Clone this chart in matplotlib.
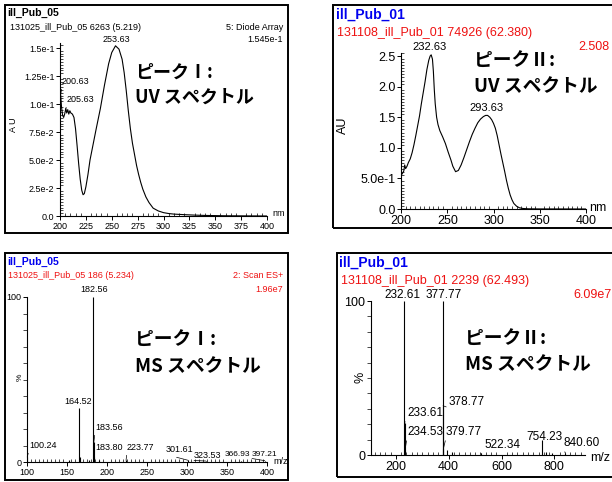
import matplotlib.pyplot as plt
from matplotlib.patches import Rectangle
from matplotlib.ticker import MultipleLocator

# UV spectrum of peak I (ill_Pub_05)
uv1_nm = [200, 200.63, 201.5, 202.5, 203.5, 204.5, 205.63, 206.5, 207.5, 208.5,
          209.5, 210.5, 212, 213.5, 215, 216.5, 218, 219.5, 221, 222.3,
          223.5, 225, 227, 229, 232, 235, 239, 243, 247, 250,
          253.63, 257, 260, 262, 264, 266, 268, 270, 272, 274,
          276, 278, 280, 283, 286, 290, 295, 300, 305, 310,
          320, 330, 340, 360, 380, 400]
uv1_au = [0.086, 0.108, 0.097, 0.090, 0.088, 0.091, 0.096, 0.092, 0.095, 0.091,
          0.094, 0.092, 0.091, 0.088, 0.078, 0.063, 0.047, 0.033, 0.023, 0.019,
          0.020, 0.026, 0.037, 0.050, 0.064, 0.078, 0.096, 0.117, 0.136, 0.146,
          0.152, 0.149, 0.140, 0.128, 0.112, 0.094, 0.078, 0.065, 0.055, 0.045,
          0.037, 0.030, 0.024, 0.017, 0.012, 0.007, 0.0045, 0.003, 0.0022, 0.0017,
          0.0012, 0.0008, 0.0005, 0.0002, 0.0001, 0.0]
uv1_yticks = [0.0, 0.025, 0.05, 0.075, 0.1, 0.125, 0.15]
uv1_ylabels = ["0.0", "2.5e-2", "5.0e-2", "7.5e-2", "1.0e-1", "1.25e-1", "1.5e-1"]
uv1_xticks = [200, 225, 250, 275, 300, 325, 350, 375, 400]

# UV spectrum of peak II (ill_Pub_01)
uv2_nm = [200, 201.5, 203, 204, 205, 206.5, 208, 210, 212, 214,
          216, 218, 220, 222, 224, 226, 228, 230, 231.5, 232.63,
          234, 235, 236, 237, 238.5, 240, 242, 245, 248, 251,
          254, 256, 259, 262, 265, 268, 271, 274, 277, 280,
          283, 286, 289, 291.5, 293.63, 296, 298, 300, 302, 304,
          306, 308, 310, 312, 314, 316, 318, 320, 322, 325,
          328, 332, 338, 350, 400]
uv2_au = [0.55, 0.58, 0.62, 0.72, 0.66, 0.70, 0.76, 0.82, 0.92, 1.05,
          1.20, 1.36, 1.52, 1.72, 1.90, 2.08, 2.28, 2.43, 2.50, 2.52,
          2.45, 2.25, 1.95, 1.72, 1.50, 1.38, 1.28, 1.18, 1.07, 0.93,
          0.80, 0.70, 0.61, 0.63, 0.72, 0.84, 0.97, 1.10, 1.22, 1.32,
          1.41, 1.47, 1.51, 1.53, 1.53, 1.50, 1.46, 1.40, 1.32, 1.20,
          1.05, 0.90, 0.76, 0.62, 0.47, 0.34, 0.23, 0.15, 0.09, 0.045,
          0.02, 0.008, 0.003, 0.001, 0.0]
uv2_yticks = [0.0, 0.5, 1.0, 1.5, 2.0, 2.5]
uv2_ylabels = ["0.0", "5.0e-1", "1.0", "1.5", "2.0", "2.5"]
uv2_xticks = [200, 250, 300, 350, 400]

# MS spectrum of peak I
ms1_mz = [100.24, 152.0, 164.52, 166.0, 178.0, 182.56, 183.56, 183.80, 190.5,
          223.77, 301.61, 323.53, 366.93, 397.21]
ms1_pct = [3, 1, 33, 3, 1, 100, 12, 3, 1, 1, 1.0, 0.6, 0.8, 0.8]
ms1_xticks = [100, 150, 200, 250, 300, 350, 400]

# MS spectrum of peak II
ms2_mz = [232.61, 233.61, 234.53, 377.77, 378.77, 379.77, 395.0, 412.0,
          522.34, 754.23, 768.0, 790.0, 840.60]
ms2_pct = [100, 21, 3, 100, 32, 4, 3, 2, 1, 10, 2, 1.5, 1.5]
ms2_xticks = [200, 400, 600, 800]

W, H = 612, 482
JP = ["Noto Sans CJK JP", "DejaVu Sans"]
NARROW = ["Liberation Sans Narrow", "Liberation Sans"]
SANS = ["Liberation Sans", "DejaVu Sans"]

fig = plt.figure(figsize=(W / 100, H / 100), dpi=100)


def axes_px(x0, y0, x1, y1):
    return fig.add_axes([x0 / W, 1 - y1 / H, (x1 - x0) / W, (y1 - y0) / H])


def text_px(x, y, s, **kw):
    kw.setdefault("va", "center")
    fig.text(x / W, 1 - y / H, s, **kw)


def frame_px(x0, y0, x1, y1):
    fig.add_artist(Rectangle((x0 / W, 1 - y1 / H), (x1 - x0) / W, (y1 - y0) / H,
                             transform=fig.transFigure, fill=False, lw=1.4, ec="black"))


def style_axes(ax, size, family, ymin_dir="in"):
    ax.patch.set_alpha(0)
    for s in ("top", "right"):
        ax.spines[s].set_visible(False)
    for s in ("left", "bottom"):
        ax.spines[s].set_linewidth(0.8)
    ax.tick_params(which="major", direction="out", length=3, width=0.7,
                   labelsize=size, pad=1)
    ax.tick_params(which="minor", direction="in", length=2, width=0.5)
    ax.tick_params(axis="y", which="minor", direction=ymin_dir)
    for lab in ax.get_xticklabels() + ax.get_yticklabels():
        lab.set_family(family)


def peak_label(ax, x, y, s, tx, ty, size, family, ha="left", leader=True):
    arrow = dict(arrowstyle="-", lw=0.5, color="black", relpos=(0, 0),
                 shrinkA=0, shrinkB=0) if leader else None
    ax.annotate(s, xy=(x, y), xytext=(tx, H - ty), textcoords="figure pixels",
                ha=ha, va="center", fontsize=size, family=family, arrowprops=arrow)


# ---------- top left: UV I ----------
frame_px(5, 5, 288, 233)
ax = axes_px(60, 43, 267, 216)
ax.plot(uv1_nm, uv1_au, color="black", lw=0.8)
ax.set_xlim(200, 400)
ax.set_ylim(0, 0.1545)
ax.set_xticks(uv1_xticks)
ax.set_yticks(uv1_yticks)
ax.set_yticklabels(uv1_ylabels)
ax.xaxis.set_minor_locator(MultipleLocator(5))
ax.yaxis.set_minor_locator(MultipleLocator(0.0025))
style_axes(ax, 6.5, NARROW)
peak_label(ax, 200.63, 0.108, "200.63", 62, 82, 6.5, NARROW)
peak_label(ax, 205.63, 0.096, "205.63", 67, 100, 6.5, NARROW)
text_px(116, 40, "253.63", ha="center", fontsize=6.5, family=NARROW)
text_px(7, 13, "ill_Pub_05", fontsize=7.5, family=SANS, weight="bold")
text_px(10, 28, "131025_ill_Pub_05 6263 (5.219)", fontsize=6.5, family=NARROW)
text_px(283, 28, "5: Diode Array", ha="right", fontsize=6.5, family=NARROW)
text_px(283, 40, "1.545e-1", ha="right", fontsize=6.5, family=NARROW)
text_px(13, 125, "A U", ha="center", rotation=90, fontsize=6.5, family=NARROW)
text_px(272, 213, "nm", fontsize=6.5, family=NARROW)
text_px(135, 72, "ピークⅠ:", fontsize=13, family=JP, weight="bold")
text_px(135, 97, "UV スペクトル", fontsize=13, family=JP, weight="bold")

# ---------- top right: UV II ----------
frame_px(333, 5, 640, 228)
ax = axes_px(401, 53, 586, 209)
ax.plot(uv2_nm, uv2_au, color="black", lw=0.8)
ax.set_xlim(200, 400)
ax.set_ylim(0, 2.55)
ax.set_xticks(uv2_xticks)
ax.set_yticks(uv2_yticks)
ax.set_yticklabels(uv2_ylabels)
ax.xaxis.set_minor_locator(MultipleLocator(5))
ax.yaxis.set_minor_locator(MultipleLocator(0.05))
style_axes(ax, 9, SANS)
text_px(430, 47, "232.63", ha="center", fontsize=8, family=SANS)
text_px(486, 108, "293.63", ha="center", fontsize=8, family=SANS)
text_px(336, 15, "ill_Pub_01", fontsize=10, family=SANS, weight="bold", color="#0000ee")
text_px(337, 33, "131108_ill_Pub_01 74926 (62.380)", fontsize=9, family=SANS, color="#ee1111")
text_px(609, 47, "2.508", ha="right", fontsize=9, family=SANS, color="#ee1111")
text_px(343, 125, "AU", ha="center", rotation=90, fontsize=9, family=SANS)
text_px(589, 208, "nm", fontsize=9, family=SANS)
text_px(474, 60, "ピークⅡ:", fontsize=13.5, family=JP, weight="bold")
text_px(474, 87, "UV スペクトル", fontsize=13.5, family=JP, weight="bold")

# ---------- bottom left: MS I ----------
frame_px(5, 253, 288, 480)
ax = axes_px(27, 297, 267, 462)
ax.vlines(ms1_mz, 0, ms1_pct, color="black", lw=0.8)
ax.set_xlim(100, 400)
ax.set_ylim(0, 100)
ax.set_xticks(ms1_xticks)
ax.set_yticks([0, 100])
ax.xaxis.set_minor_locator(MultipleLocator(5))
ax.yaxis.set_minor_locator(MultipleLocator(10))
style_axes(ax, 6.5, NARROW, ymin_dir="out")
ax.tick_params(axis="y", which="minor", length=3)
for mz, pct in zip(ms1_mz, ms1_pct):
    s = f"{mz:.2f}"
    if s == "182.56":
        text_px(94, 289, s, ha="center", fontsize=6.5, family=NARROW)
    elif s == "164.52":
        text_px(78, 402, s, ha="center", fontsize=6.5, family=NARROW)
    elif s == "100.24":
        peak_label(ax, mz, pct, s, 29, 446, 6.5, NARROW)
    elif s == "183.56":
        peak_label(ax, mz, pct, s, 95, 428, 6.5, NARROW)
    elif s == "183.80":
        peak_label(ax, mz, pct, s, 95, 448, 6.5, NARROW)
    elif s == "223.77":
        peak_label(ax, mz, pct, s, 127, 448, 6.5, NARROW)
    elif s == "301.61":
        peak_label(ax, mz, pct, s, 166, 450, 6.5, NARROW)
    elif s == "323.53":
        peak_label(ax, mz, pct, s, 194, 456, 6.5, NARROW)
    elif s == "366.93":
        peak_label(ax, mz, pct, s, 225, 455, 6, NARROW, leader=False)
    elif s == "397.21":
        peak_label(ax, mz, pct, s, 252, 455, 6, NARROW)
text_px(7, 262, "ill_Pub_05", fontsize=7.5, family=SANS, weight="bold", color="#0000ee")
text_px(8, 276, "131025_ill_Pub_05 186 (5.234)", fontsize=6.5, family=NARROW, color="#ee1111")
text_px(283, 276, "2: Scan ES+", ha="right", fontsize=6.5, family=NARROW, color="#ee1111")
text_px(283, 289, "1.96e7", ha="right", fontsize=6.5, family=NARROW, color="#ee1111")
text_px(20, 377, "%", ha="center", rotation=90, fontsize=6, family=NARROW)
text_px(273, 462, "m/z", fontsize=6.5, family=NARROW)
text_px(135, 339, "ピークⅠ:", fontsize=13.5, family=JP, weight="bold")
text_px(135, 367, "MS スペクトル", fontsize=13.5, family=JP, weight="bold")

# ---------- bottom right: MS II ----------
frame_px(337, 253, 640, 477)
ax = axes_px(371, 301, 585, 455)
ax.vlines(ms2_mz, 0, ms2_pct, color="black", lw=0.8)
ax.set_xlim(106, 916)
ax.set_ylim(0, 100)
ax.set_xticks(ms2_xticks)
ax.set_yticks([0, 100])
ax.xaxis.set_minor_locator(MultipleLocator(20))
ax.yaxis.set_minor_locator(MultipleLocator(10))
style_axes(ax, 9, SANS, ymin_dir="out")
ax.tick_params(axis="y", which="minor", length=3)
for mz, pct in zip(ms2_mz, ms2_pct):
    s = f"{mz:.2f}"
    if s == "232.61":
        text_px(402, 295, s, ha="center", fontsize=8.5, family=SANS)
    elif s == "377.77":
        text_px(444, 295, s, ha="center", fontsize=8.5, family=SANS)
    elif s == "754.23":
        text_px(544, 437, s, ha="center", fontsize=8.5, family=SANS)
    elif s == "233.61":
        peak_label(ax, mz, pct, s, 407, 413, 8.5, SANS)
    elif s == "378.77":
        peak_label(ax, mz, pct, s, 449, 402, 8.5, SANS)
    elif s == "234.53":
        peak_label(ax, mz, pct, s, 407, 432, 8.5, SANS)
    elif s == "379.77":
        peak_label(ax, mz, pct, s, 446, 432, 8.5, SANS)
    elif s == "522.34":
        peak_label(ax, mz, pct, s, 484, 445, 8.5, SANS)
    elif s == "840.60":
        peak_label(ax, mz, pct, s, 564, 443, 8.5, SANS)
text_px(339, 263, "ill_Pub_01", fontsize=10, family=SANS, weight="bold", color="#0000ee")
text_px(341, 281, "131108_ill_Pub_01 2239 (62.493)", fontsize=9, family=SANS, color="#ee1111")
text_px(573, 295, "6.09e7", fontsize=9, family=SANS, color="#ee1111")
text_px(360, 377, "%", ha="center", rotation=90, fontsize=9, family=SANS)
text_px(590, 458, "m/z", fontsize=9, family=SANS)
text_px(465, 338, "ピークⅡ:", fontsize=13.5, family=JP, weight="bold")
text_px(465, 365, "MS スペクトル", fontsize=13.5, family=JP, weight="bold")

fig.savefig("out.png", dpi=100, facecolor="white")
